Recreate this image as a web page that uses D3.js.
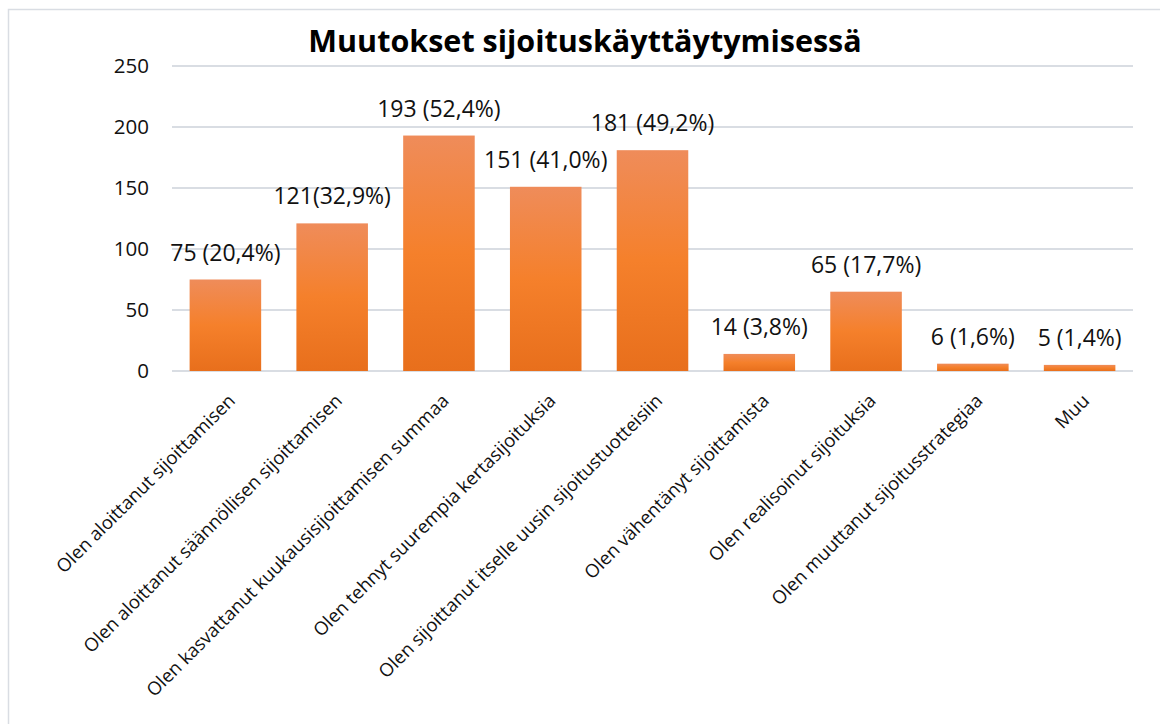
<!DOCTYPE html>
<html>
  <head>
    <meta charset="utf-8">
    <title>Muutokset sijoituskäyttäytymisessä</title>
    <script src="https://d3js.org/d3.v7.min.js"></script>
    <style>
      body { margin: 0; background: #fff; }
      svg { display: block; font-family: "Open Sans", sans-serif; }
      .grid line { stroke: #d9dde3; stroke-width: 2; }
      .tickLabel { font-size: 20.5px; fill: #111; }
      .barLabel { font-size: 23px; fill: #111; }
      .catLabel { font-size: 18.5px; fill: #111; }
      .title { font-size: 30.5px; font-weight: bold; fill: #000; }
    </style>
  </head>
  <body>
    <svg id="chart" width="1160" height="724"></svg>
    <script>
      // data
      const categories = [
        "Olen aloittanut sijoittamisen",
        "Olen aloittanut säännöllisen sijoittamisen",
        "Olen kasvattanut kuukausisijoittamisen summaa",
        "Olen tehnyt suurempia kertasijoituksia",
        "Olen sijoittanut itselle uusin sijoitustuotteisiin",
        "Olen vähentänyt sijoittamista",
        "Olen realisoinut sijoituksia",
        "Olen muuttanut sijoitusstrategiaa",
        "Muu"
      ];
      const counts = [75, 121, 193, 151, 181, 14, 65, 6, 5];
      const labels = ["75 (20,4%)", "121(32,9%)", "193 (52,4%)", "151 (41,0%)", "181 (49,2%)",
                      "14 (3,8%)", "65 (17,7%)", "6 (1,6%)", "5 (1,4%)"];
      const yTicks = [0, 50, 100, 150, 200, 250];

      const data = categories.map(function(c, i) {
        return { cat: c, value: counts[i], label: labels[i] };
      });

      const svg = d3.select("#chart");
      const margin = { top: 66, right: 27, bottom: 353, left: 172 };
      const width = 1160, height = 724;

      // chart area border (left/top only visible)
      svg.append("rect")
        .attr("x", 8.5).attr("y", 9.5)
        .attr("width", 1200).attr("height", 800)
        .attr("fill", "none")
        .attr("stroke", "#d9dde3")
        .attr("stroke-width", 1.5);

      const x = d3.scaleBand()
        .domain(categories)
        .range([margin.left, width - margin.right])
        .paddingInner(0.33)
        .paddingOuter(0.165);

      const y = d3.scaleLinear()
        .domain([0, 250])
        .range([height - margin.bottom, margin.top]);

      // gradient for bars
      const grad = svg.append("defs").append("linearGradient")
        .attr("id", "barGrad")
        .attr("x1", 0).attr("y1", 0).attr("x2", 0).attr("y2", 1);
      grad.append("stop").attr("offset", "0%").attr("stop-color", "#ef8c5a");
      grad.append("stop").attr("offset", "50%").attr("stop-color", "#f5802b");
      grad.append("stop").attr("offset", "100%").attr("stop-color", "#e86f1c");

      // gridlines
      svg.append("g")
        .attr("class", "grid")
        .selectAll("line")
        .data(yTicks)
        .join("line")
          .attr("x1", margin.left)
          .attr("x2", width - margin.right)
          .attr("y1", function(d) { return y(d); })
          .attr("y2", function(d) { return y(d); });

      // y tick labels
      svg.append("g")
        .selectAll("text")
        .data(yTicks)
        .join("text")
          .attr("class", "tickLabel")
          .attr("x", 149)
          .attr("y", function(d) { return y(d); })
          .attr("dy", "0.35em")
          .attr("text-anchor", "end")
          .text(function(d) { return d; });

      // bars
      svg.append("g")
        .selectAll("rect")
        .data(data)
        .join("rect")
          .attr("x", function(d) { return x(d.cat); })
          .attr("y", function(d) { return y(d.value); })
          .attr("width", x.bandwidth())
          .attr("height", function(d) { return y(0) - y(d.value); })
          .attr("fill", "url(#barGrad)");

      // value labels
      svg.append("g")
        .selectAll("text")
        .data(data)
        .join("text")
          .attr("class", "barLabel")
          .attr("x", function(d) { return x(d.cat) + x.bandwidth() / 2; })
          .attr("y", function(d) { return y(d.value) - 19; })
          .attr("text-anchor", "middle")
          .text(function(d) { return d.label; });

      // rotated category labels
      svg.append("g")
        .selectAll("text")
        .data(data)
        .join("text")
          .attr("class", "catLabel")
          .attr("text-anchor", "end")
          .attr("transform", function(d) {
            let cx = x(d.cat) + x.bandwidth() / 2 + 11;
            return "translate(" + cx + "," + 402 + ") rotate(-45)";
          })
          .text(function(d) { return d.cat; });

      // title
      svg.append("text")
        .attr("class", "title")
        .attr("x", 585)
        .attr("y", 52)
        .attr("text-anchor", "middle")
        .text("Muutokset sijoituskäyttäytymisessä");
    </script>
  </body>
</html>
